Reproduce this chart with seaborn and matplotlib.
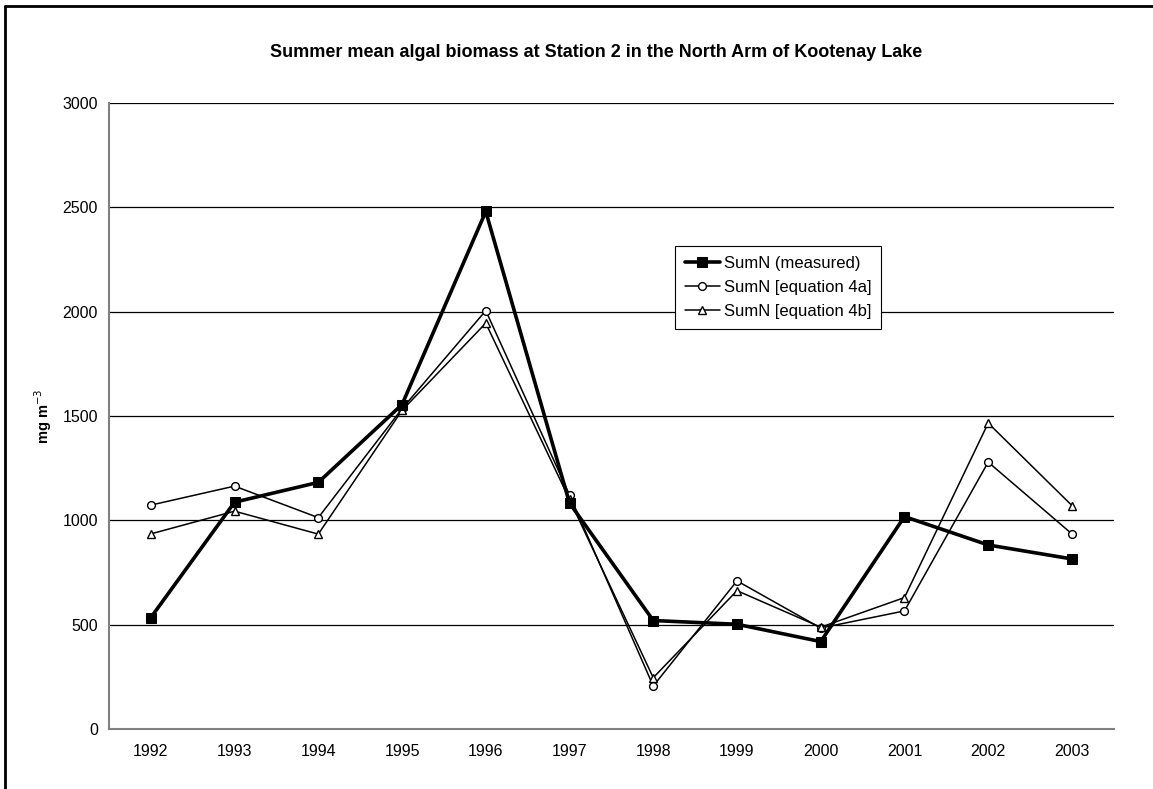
import matplotlib
matplotlib.use("Agg")
import matplotlib.pyplot as plt
import pandas as pd
import seaborn as sns
from matplotlib.lines import Line2D

years = ["1992", "1993", "1994", "1995", "1996", "1997", "1998", "1999", "2000", "2001", "2002", "2003"]
measured = [534, 1087, 1182, 1555, 2480, 1083, 520, 502, 419, 1018, 882, 815]
eq_4a = [1073, 1164, 1013, 1535, 2005, 1122, 206, 710, 484, 566, 1279, 935]
eq_4b = [935, 1044, 934, 1527, 1945, 1100, 246, 663, 488, 630, 1466, 1071]
yticks = [0, 500, 1000, 1500, 2000, 2500, 3000]

sns.set_style("white")
plt.rcParams["font.family"] = ["Liberation Sans", "DejaVu Sans"]
plt.rcParams["text.color"] = "black"
plt.rcParams["axes.labelcolor"] = "black"
plt.rcParams["xtick.labelcolor"] = "black"
plt.rcParams["ytick.labelcolor"] = "black"

pos = list(range(len(years)))
df = pd.DataFrame({"pos": pos, "measured": measured, "eq_4a": eq_4a, "eq_4b": eq_4b})

fig = plt.figure(figsize=(11.53, 7.89), dpi=100)
ax = fig.add_axes([0.0945, 0.076, 0.8715, 0.7935])

sns.lineplot(data=df, x="pos", y="measured", ax=ax, color="black", lw=2.6,
             marker="s", markersize=6.8, markerfacecolor="black", markeredgecolor="black",
             label="SumN (measured)", zorder=5)
sns.lineplot(data=df, x="pos", y="eq_4a", ax=ax, color="black", lw=1.1,
             marker="o", markersize=5.6, markerfacecolor="white", markeredgecolor="black",
             markeredgewidth=1.0, label="SumN [equation 4a]", zorder=4)
sns.lineplot(data=df, x="pos", y="eq_4b", ax=ax, color="black", lw=1.1,
             marker="^", markersize=6, markerfacecolor="white", markeredgecolor="black",
             markeredgewidth=1.0, label="SumN [equation 4b]", zorder=4)

ax.set_xlim(-0.5, len(years) - 0.5)
ax.set_ylim(0, 3000)
ax.set_yticks(yticks)
ax.set_yticklabels([str(t) for t in yticks], fontsize=11.5)
ax.yaxis.grid(True, color="black", lw=0.9)
ax.set_axisbelow(True)

# category labels in the middle, tick marks on the boundaries
ax.set_xticks([p - 0.5 for p in pos] + [len(years) - 0.5])
ax.set_xticklabels([])
ax.set_xticks(pos, minor=True)
ax.set_xticklabels(years, minor=True, fontsize=11.5)
ax.tick_params(axis="x", which="minor", length=0, pad=11)
ax.tick_params(axis="x", which="major", length=5, width=1, color="#808080", direction="out")
ax.tick_params(axis="y", length=5, width=1, color="#808080", direction="out", pad=3)

for side in ["top", "right"]:
    ax.spines[side].set_visible(False)
for side in ["left", "bottom"]:
    ax.spines[side].set_color("#808080")
    ax.spines[side].set_linewidth(1.5)

ax.set_xlabel("")
ax.set_ylabel("mg m$^{-3}$", fontsize=10.5, fontweight="bold", labelpad=6)

ax.set_title("Summer mean algal biomass at Station 2 in the North Arm of Kootenay Lake",
             fontsize=13, fontweight="bold", x=0.485, y=1.06)

leg = ax.legend(loc="upper left", bbox_to_anchor=(0.563, 0.772), fontsize=12,
                frameon=True, fancybox=False, edgecolor="black", framealpha=1,
                handlelength=2.1, handletextpad=0.25, borderpad=0.6, labelspacing=0.55,
                borderaxespad=0)
leg.get_frame().set_linewidth(0.8)

# outer chart frame (left and top edges visible)
fig.add_artist(Line2D([5 / 1153, 5 / 1153], [0, 1 - 6 / 789], transform=fig.transFigure, color="black", lw=2))
fig.add_artist(Line2D([5 / 1153, 1], [1 - 6 / 789, 1 - 6 / 789], transform=fig.transFigure, color="black", lw=2))

fig.savefig("out.png", dpi=100)
